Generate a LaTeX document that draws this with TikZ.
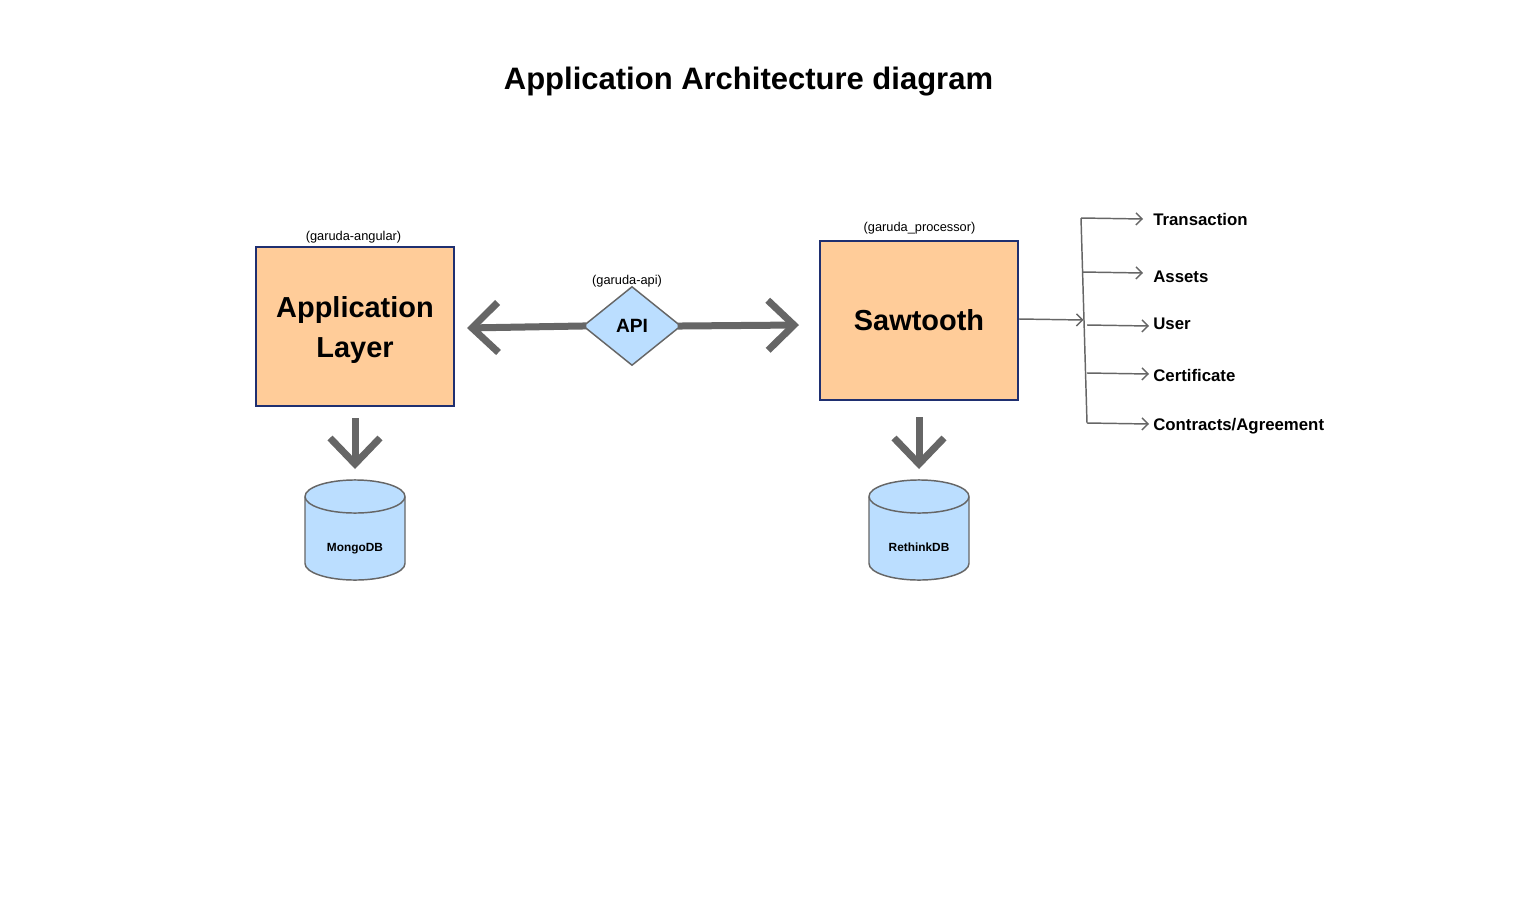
\documentclass[tikz,border=0pt]{standalone}
\usepackage{fontspec}
\setmainfont{Liberation Sans}
\usetikzlibrary{shapes.geometric,arrows.meta}
\definecolor{boxfill}{HTML}{FFCC99}
\definecolor{boxline}{HTML}{1F2F70}
\definecolor{dbfill}{HTML}{BBDEFF}
\definecolor{conn}{HTML}{666666}
\tikzset{
  layerbox/.style={draw=boxline, line width=1.5pt, fill=boxfill, minimum width=148.5pt, minimum height=119.25pt, inner sep=0pt, align=center, font=\fontsize{21.7}{30}\selectfont\bfseries},
  layertext/.style={inner sep=0pt, align=center, font=\fontsize{21.7}{30}\selectfont\bfseries},
  apishape/.style={diamond, draw=conn, line width=1.1pt, fill=dbfill, minimum width=73.5pt, minimum height=59.25pt, aspect=1.24, inner sep=0pt, font=\fontsize{14.4}{17}\selectfont\bfseries},
  smalllabel/.style={font=\fontsize{9.6}{11}\selectfont, inner sep=0pt},
  listlabel/.style={font=\fontsize{12.6}{15}\selectfont\bfseries, anchor=west, inner sep=0pt},
  dblabel/.style={font=\fontsize{8.9}{10}\selectfont\bfseries, inner sep=0pt},
  bigarrow/.style={draw=conn, line width=5.25pt, -{Straight Barb[length=19.5pt,width=37.5pt]}},
  thinarrow/.style={draw=conn, line width=1.1pt, -{Straight Barb[length=4.5pt,width=9pt]}},
  thinline/.style={draw=conn, line width=1.1pt},
  dbshape/.style={draw=conn, line width=1.1pt, fill=dbfill},
}
\begin{document}
\begin{tikzpicture}[x=0.75pt,y=-0.75pt]
\useasboundingbox (0,0) rectangle (1513,896);
% title
\node[font=\fontsize{23.25}{28}\selectfont\bfseries, inner sep=0pt] (title) at (748.5,82) {Application Architecture diagram};
% boxes
\node[layerbox] (app) at (355,326.5) {};
\node[layertext] (apptext) at (355,330) {Application\\Layer};
\node[smalllabel] (applbl) at (353.5,237.5) {(garuda-angular)};
\node[layerbox] (saw) at (919,320.5) {Sawtooth};
\node[smalllabel] (sawlbl) at (919.5,228.5) {(garuda\_processor)};
% API
\node[apishape] (api) at (632,326) {API};
\node[smalllabel] (apilbl) at (627,281.5) {(garuda-api)};
% big arrows
\coordinate (lefttip) at (467,328);
\coordinate (righttip) at (799,325);
\draw[bigarrow, shorten <=-3pt] (api.west) -- (lefttip);
\draw[bigarrow, shorten <=-3pt] (api.east) -- (righttip);
% down arrows
\coordinate (appdown) at (355,418);
\coordinate (mongotip) at (355,469);
\coordinate (sawdown) at (919,417);
\coordinate (rethinktip) at (919,469);
\draw[bigarrow] (appdown) -- (mongotip);
\draw[bigarrow] (sawdown) -- (rethinktip);
% cylinders
\path[dbshape] (305,496.5) -- (305,563.5) arc[start angle=180,end angle=360,x radius=37.5pt,y radius=12.4pt] -- (405,496.5) arc[start angle=0,end angle=180,x radius=37.5pt,y radius=12.4pt] -- cycle;
\draw[draw=conn, line width=1.1pt] (305,496.5) arc[start angle=180,end angle=360,x radius=37.5pt,y radius=12.4pt];
\node[dblabel] (mongo) at (355,548.5) {MongoDB};
\path[dbshape] (869,496.5) -- (869,563.5) arc[start angle=180,end angle=360,x radius=37.5pt,y radius=12.4pt] -- (969,496.5) arc[start angle=0,end angle=180,x radius=37.5pt,y radius=12.4pt] -- cycle;
\draw[draw=conn, line width=1.1pt] (869,496.5) arc[start angle=180,end angle=360,x radius=37.5pt,y radius=12.4pt];
\node[dblabel] (rethink) at (919,547) {RethinkDB};
% branch
\coordinate (btop) at (1081,218);
\coordinate (bbot) at (1087,423);
\coordinate (bin) at (1083.5,320);
\coordinate (bA) at (1082,272);
\coordinate (bU) at (1087,325);
\coordinate (bC) at (1087,373);
\draw[thinarrow] (saw.east |- 0,319) -- (bin);
\draw[thinline] (btop) -- (bbot);
\node[listlabel] (tr) at (1153,219.5) {Transaction};
\node[listlabel] (as) at (1153,276.5) {Assets};
\node[listlabel] (us) at (1153,323.5) {User};
\node[listlabel] (ce) at (1153,375) {Certificate};
\node[listlabel] (co) at (1153,426) {Contracts/Agreement};
\draw[thinarrow] (btop) -- (1143,219);
\draw[thinarrow] (bA) -- (1143,273);
\draw[thinarrow] (bU) -- (1149,326);
\draw[thinarrow] (bC) -- (1149,374);
\draw[thinarrow] (bbot) -- (1149,424);
\end{tikzpicture}
\end{document}
